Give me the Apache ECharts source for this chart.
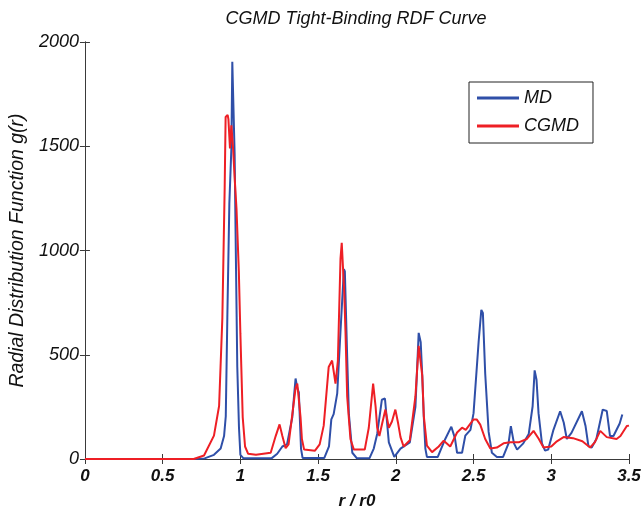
<!DOCTYPE html>
<html><head><meta charset="utf-8">
<script src="https://cdn.jsdelivr.net/npm/echarts@6/dist/echarts.min.js"></script>
<style>html,body{margin:0;padding:0;background:#fff}#c{width:644px;height:515px}</style>
</head><body><div id="c"></div>
<script>
var titleText = 'CGMD Tight-Binding RDF Curve';
var xName = 'r / r0';
var yName = 'Radial Distribution Function g(r)';
var seriesNames = ['MD', 'CGMD'];

var mdR = [0,0.70,0.77,0.83,0.873,0.895,0.906,0.916,0.929,0.942,0.948,0.958,0.963,0.972,0.98,0.991,1.0,1.02,1.2,1.237,1.27,1.30,1.334,1.345,1.355,1.366,1.376,1.39,1.40,1.54,1.57,1.585,1.60,1.623,1.644,1.666,1.672,1.687,1.698,1.72,1.75,1.83,1.858,1.88,1.91,1.93,1.955,1.99,2.03,2.09,2.126,2.147,2.16,2.17,2.18,2.19,2.2,2.27,2.318,2.357,2.38,2.394,2.426,2.447,2.48,2.5,2.533,2.55,2.56,2.575,2.597,2.618,2.65,2.69,2.725,2.74,2.76,2.78,2.82,2.855,2.88,2.893,2.905,2.918,2.94,2.96,2.98,3.014,3.057,3.08,3.1,3.13,3.197,3.22,3.239,3.26,3.29,3.331,3.357,3.378,3.4,3.44,3.457];
var mdG = [0,0,3,20,50,110,205,677,1225,1490,1905,1900,1460,912,442,150,20,3,3,25,60,70,200,300,386,340,320,50,5,5,60,190,215,315,613,911,900,489,215,30,3,3,50,120,284,290,80,10,50,80,250,605,560,400,200,50,10,10,96,155,100,30,30,112,140,220,566,715,700,409,130,30,10,10,75,158,75,45,75,120,253,425,380,220,75,40,45,140,229,175,96,125,229,160,62,55,96,237,230,110,110,170,213];

var cgmdR = [0,0.70,0.766,0.83,0.863,0.884,0.899,0.905,0.918,0.923,0.933,0.942,0.953,0.963,0.975,0.99,1.0,1.006,1.015,1.03,1.05,1.10,1.195,1.227,1.252,1.27,1.291,1.31,1.34,1.355,1.366,1.377,1.387,1.396,1.41,1.48,1.51,1.536,1.568,1.59,1.612,1.627,1.644,1.652,1.66,1.668,1.676,1.687,1.708,1.73,1.80,1.826,1.854,1.87,1.88,1.894,1.915,1.933,1.955,1.975,1.997,2.015,2.03,2.05,2.09,2.126,2.147,2.17,2.18,2.2,2.233,2.276,2.308,2.35,2.394,2.426,2.45,2.5,2.52,2.543,2.575,2.608,2.65,2.693,2.736,2.79,2.843,2.886,2.92,2.95,3.0,3.036,3.079,3.14,3.2,3.25,3.28,3.315,3.357,3.42,3.445,3.486,3.5];
var cgmdG = [0,0,17,112,254,677,1304,1640,1650,1630,1490,1600,1490,1350,1200,900,600,440,200,60,25,20,30,110,166,110,52,70,250,340,362,358,200,95,45,40,70,160,441,472,362,470,960,1037,1030,800,613,300,96,45,45,150,362,250,150,110,180,237,150,180,237,170,105,60,90,300,543,400,206,64,33,60,88,60,127,150,140,190,190,165,96,50,55,75,80,80,96,135,96,55,60,85,105,100,85,55,80,135,105,96,110,158,160];

function zip(a, b) { return a.map(function (v, i) { return [v, b[i]]; }); }

var font = 'Liberation Sans, Arial, sans-serif';
var axisCol = '#3a3a3a';
var chart = echarts.init(document.getElementById('c'));
var hiddenAxis = {
  axisLine: { show: true, lineStyle: { color: axisCol, width: 1 } },
  axisTick: { show: true, inside: true, length: 5, lineStyle: { color: axisCol } },
  axisLabel: { show: false }, splitLine: { show: false }
};
chart.setOption({
  animation: false,
  backgroundColor: '#fff',
  title: {
    text: titleText, left: 351, top: 5, textAlign: 'center',
    textStyle: { fontFamily: font, fontStyle: 'italic', fontWeight: 'normal', fontSize: 18, color: '#111' }
  },
  legend: {
    data: seriesNames, orient: 'vertical', left: 469, top: 82, icon: 'rect',
    padding: [7, 14, 8, 8], itemGap: 10, itemWidth: 42, itemHeight: 3,
    backgroundColor: '#fff', borderColor: '#222', borderWidth: 1, borderRadius: 0,
    textStyle: { fontFamily: font, fontStyle: 'italic', fontSize: 18, lineHeight: 18, color: '#111' }
  },
  grid: { left: 84, right: 15, top: 42, bottom: 48, containLabel: false },
  xAxis: [{
    type: 'value', min: 0, max: 3.5, interval: 0.5,
    name: xName, nameLocation: 'middle', nameGap: 34,
    nameTextStyle: { fontFamily: font, fontStyle: 'italic', fontWeight: 'bold', fontSize: 17, color: '#111' },
    axisLine: { show: true, onZero: false, lineStyle: { color: axisCol, width: 1 } },
    axisTick: { show: true, inside: true, length: 5, lineStyle: { color: axisCol } },
    axisLabel: { margin: 9, fontFamily: font, fontStyle: 'italic', fontWeight: 'bold', fontSize: 17, color: '#111' },
    splitLine: { show: false }
  }, Object.assign({ type: 'value', min: 0, max: 3.5, interval: 0.5, position: 'top' }, hiddenAxis)],
  yAxis: [{
    type: 'value', min: 0, max: 2000, interval: 500,
    name: yName, nameLocation: 'middle', nameGap: 55, nameRotate: 90,
    nameTextStyle: { fontFamily: font, fontStyle: 'italic', fontWeight: 'normal', fontSize: 19.5, color: '#111' },
    axisLine: { show: true, onZero: false, lineStyle: { color: axisCol, width: 1 } },
    axisTick: { show: true, inside: true, length: 5, lineStyle: { color: axisCol } },
    axisLabel: { margin: 6, fontFamily: font, fontStyle: 'italic', fontSize: 18, color: '#111',
      formatter: function (v) { return String(v); } },
    splitLine: { show: false }
  }, Object.assign({ type: 'value', min: 0, max: 2000, interval: 500, position: 'right' }, hiddenAxis)],
  series: [{
    name: seriesNames[0], type: 'line', data: zip(mdR, mdG), symbol: 'none',
    lineStyle: { color: '#2f4fa8', width: 2 }, itemStyle: { color: '#2f4fa8' }, z: 2
  }, {
    name: seriesNames[1], type: 'line', data: zip(cgmdR, cgmdG), symbol: 'none',
    lineStyle: { color: '#ee1f25', width: 2 }, itemStyle: { color: '#ee1f25' }, z: 3
  }]
});
</script></body></html>
